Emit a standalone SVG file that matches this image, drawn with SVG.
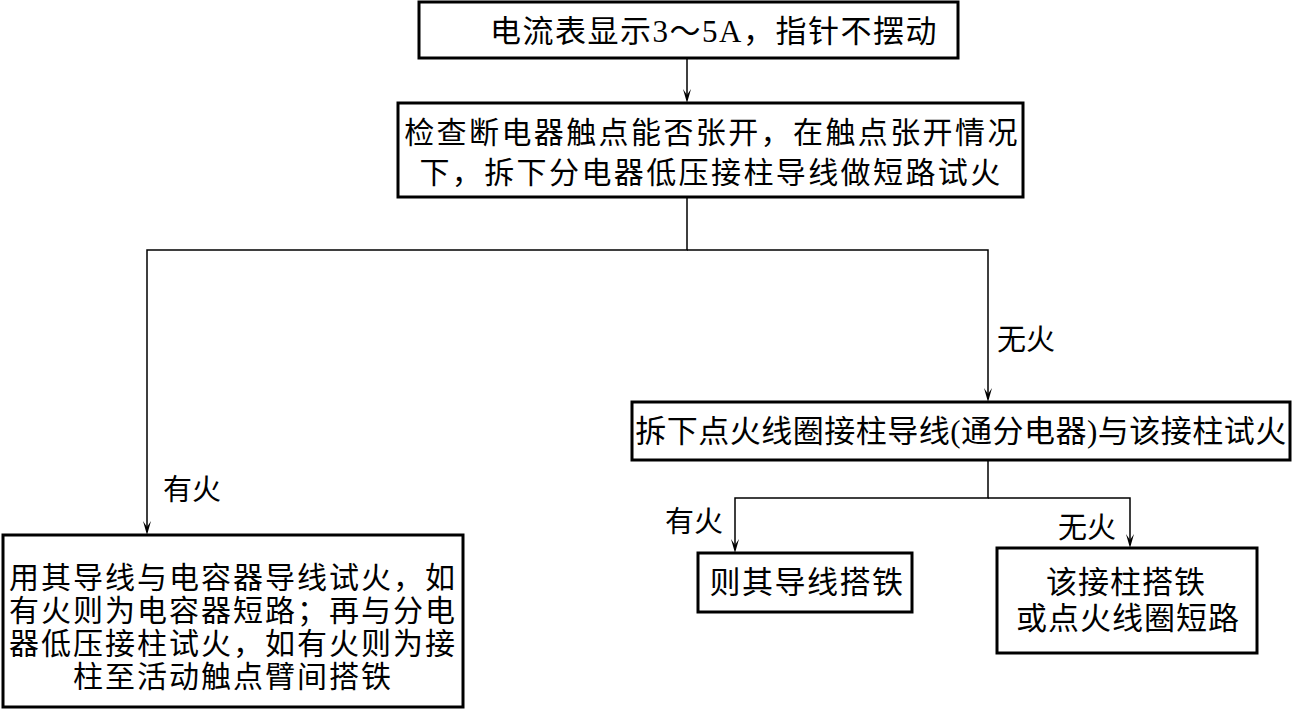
<svg xmlns="http://www.w3.org/2000/svg" width="1294" height="711" viewBox="0 0 1294 711">
<style>
.box{fill:#fff;stroke:#000;stroke-width:3}
.t{font-family:"Liberation Serif","Noto Sans CJK SC",serif;font-size:30px;fill:#000;text-anchor:middle}
.lbl{font-family:"Liberation Serif","Noto Sans CJK SC",serif;font-size:29px;fill:#000}
.ln{fill:none;stroke:#000;stroke-width:1.5}
</style>
<defs>
<path id="ah" d="M-4,-14 L0,-8 L4,-14 L0,0 Z" fill="#000"/>
</defs>
<rect width="1294" height="711" fill="#fff"/>
<g id="connectors">
<line class="ln" x1="687" y1="58" x2="687" y2="100"/>
<path class="ln" d="M687,197 V250 H147 V532"/>
<path class="ln" d="M687,250 H988 V399"/>
<path class="ln" d="M988,460 V498 H735 V550"/>
<path class="ln" d="M988,498 H1130 V545"/>
<use href="#ah" x="687" y="103"/>
<use href="#ah" x="147" y="535"/>
<use href="#ah" x="988" y="402"/>
<use href="#ah" x="735" y="553"/>
<use href="#ah" x="1130" y="548"/>
<text class="lbl" x="163" y="500">有火</text>
<text class="lbl" x="997" y="350">无火</text>
<text class="lbl" x="665" y="532">有火</text>
<text class="lbl" x="1058" y="538">无火</text>
</g>
<g id="n1">
<rect class="box" x="419" y="2" width="539" height="56"/>
<text class="t" x="714" y="42" style="font-size:31px;letter-spacing:1.5px">电流表显示3～5A，指针不摆动</text>
</g>
<g id="n2">
<rect class="box" x="398" y="103" width="625" height="94"/>
<text class="t" x="712" y="143" style="letter-spacing:2.4px">检查断电器触点能否张开，在触点张开情况</text>
<text class="t" x="711" y="183" style="letter-spacing:2.4px">下，拆下分电器低压接柱导线做短路试火</text>
</g>
<g id="n3">
<rect class="box" x="3" y="535" width="460" height="172"/>
<text class="t" x="233" y="588" style="letter-spacing:2px">用其导线与电容器导线试火，如</text>
<text class="t" x="233" y="621" style="letter-spacing:2px">有火则为电容器短路；再与分电</text>
<text class="t" x="233" y="654" style="letter-spacing:2px">器低压接柱试火，如有火则为接</text>
<text class="t" x="233" y="687" style="letter-spacing:2px">柱至活动触点臂间搭铁</text>
</g>
<g id="n4">
<rect class="box" x="632" y="402" width="658" height="58"/>
<text class="t" x="961" y="442" style="font-size:31px;letter-spacing:0.5px">拆下点火线圈接柱导线(通分电器)与该接柱试火</text>
</g>
<g id="n5">
<rect class="box" x="698" y="553" width="214" height="59"/>
<text class="t" x="807" y="593" style="font-size:31px;letter-spacing:1.5px">则其导线搭铁</text>
</g>
<g id="n6">
<rect class="box" x="997" y="548" width="260" height="105"/>
<text class="t" x="1126" y="593" style="font-size:31px;letter-spacing:1px">该接柱搭铁</text>
<text class="t" x="1128" y="629" style="font-size:31px;letter-spacing:1px">或点火线圈短路</text>
</g>
</svg>
